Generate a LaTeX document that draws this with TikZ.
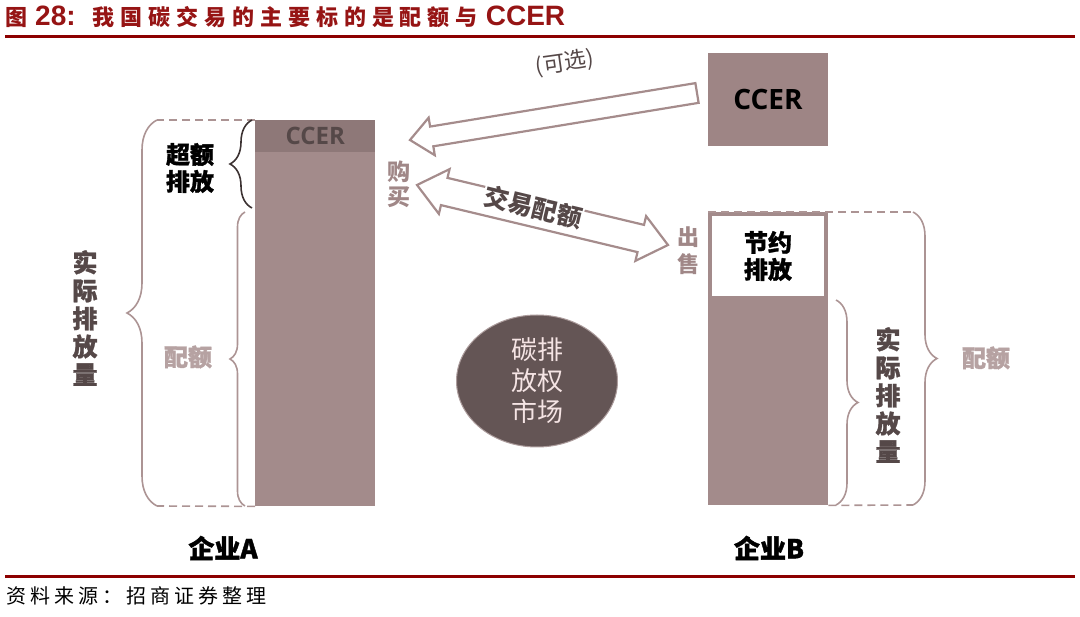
\documentclass[tikz,border=0pt]{standalone}
\usepackage{fontspec}
\setmainfont{Noto Sans CJK SC}
\newfontfamily\latinbold{Liberation Sans}
\newfontfamily\opensans{Open Sans}
\usetikzlibrary{calc,shapes.geometric,decorations.pathreplacing}
\definecolor{titlered}{RGB}{150, 20, 20}
\definecolor{rulered}{RGB}{140, 0, 0}
\definecolor{barfill}{RGB}{163, 139, 139}
\definecolor{barband}{RGB}{142, 120, 120}
\definecolor{boxfill}{RGB}{158, 133, 133}
\definecolor{braceline}{RGB}{172, 148, 148}
\definecolor{palelabel}{RGB}{182, 162, 162}
\definecolor{softlabel}{RGB}{160, 135, 135}
\definecolor{darklabel}{RGB}{85, 72, 72}
\definecolor{marketfill}{RGB}{100, 85, 85}
\definecolor{markettext}{RGB}{245, 228, 228}
\definecolor{arrowline}{RGB}{165, 140, 140}

\begin{document}
\begin{tikzpicture}[
    x=1pt, y=-1pt,
    bar/.style={
        rectangle, inner sep=0,
        minimum width=120,
        fill=barfill
    },
    tagtext/.style={
        font=\fontsize{24}{27}\selectfont\bfseries\addfontfeature{FakeBold=1.2},
        align=center, inner sep=0
    },
    vlabel/.style={
        font=\fontsize{25}{28}\selectfont\bfseries\addfontfeature{FakeBold=1.2},
        align=center, inner sep=0,
        text=darklabel
    },
    bracing/.style={
        decorate, decoration={brace, amplitude=#1},
        line width=1.6pt, draw=braceline
    },
    guide/.style={
        dash pattern=on 8pt off 5pt,
        line width=1.6pt, draw=braceline
    },
    hollow/.style={
        draw=arrowline, fill=white,
        line width=2.2pt, line join=miter
    }
]
\useasboundingbox (0,0) rectangle (1080,617);

% Title and rules
\node[anchor=west, inner sep=0, text=titlered, font=\fontsize{22}{22}\selectfont\bfseries] (title) at (5,17)
    {图\hspace{8pt}{\latinbold\fontsize{28}{28}\selectfont 28:}\hspace{17pt}{\addfontfeature{LetterSpace=27}我国碳交易的主要标的是配额与}\hspace{8pt}{\latinbold\fontsize{28}{28}\selectfont CCER}};
\draw[rulered, line width=3pt] (5,37) -- (1075,37);
\draw[rulered, line width=3pt] (5,576.5) -- (1075,576.5);
\node[anchor=west, inner sep=0, font=\fontsize{20}{20}\selectfont\addfontfeature{LetterSpace=20}] (source) at (6,596) {资料来源：招商证券整理};

% COLUMN 1: firm A
\node[bar, minimum height=386, anchor=north west] (barA) at (255,120) {};
\node[rectangle, inner sep=0, minimum width=120, minimum height=32, anchor=north west, fill=barband,
      text=darklabel, font=\opensans\fontsize{24}{24}\selectfont\bfseries] (ccerA) at (255,120) {CCER};
\node[tagtext] (overA) at (190,168) {超额\\排放};
\node[tagtext, text=palelabel] (quotaA) at (188,357) {配额};
\node[vlabel] (actualA) at (85,318) {实\\际\\排\\放\\量};
\node[tagtext, font=\fontsize{26}{26}\selectfont\bfseries\addfontfeature{FakeBold=1.5}] (firmA) at (223,548) {企业A};

\draw[guide] (barA.north west) -- (157,120);
\draw[guide] (barA.south west) -- (157,506);
\draw[bracing=30] (157,506) -- (157,120);
\draw[bracing=22, draw=darklabel!70!black] (252,208) -- (252,120);
\draw[bracing=15] (245,506) -- (245,212);

% COLUMN 2: firm B
\node[bar, minimum height=205, anchor=north west] (barB) at (708,300) {};
\node[tagtext, rectangle, draw=barfill, line width=4pt, fill=white, minimum width=116, minimum height=84] (saveB) at (768,256) {节约\\排放};
\node[vlabel] (actualB) at (888,395) {实\\际\\排\\放\\量};
\node[tagtext, text=palelabel] (quotaB) at (986,358) {配额};
\node[tagtext, font=\fontsize{26}{26}\selectfont\bfseries\addfontfeature{FakeBold=1.5}] (firmB) at (769,548) {企业B};

\draw[guide] (708,212) -- (913,212);
\draw[guide] (barB.south east) -- (913,505);
\draw[bracing=24] (913,212) -- (913,505);
\draw[bracing=22] (836,300) -- (836,505);

% CCER supply
\node[rectangle, inner sep=0, minimum width=120, minimum height=93, fill=boxfill,
      font=\opensans\fontsize{28}{28}\selectfont\bfseries] (ccerbox) at (768,99.5) {CCER};

% Market
\node[ellipse, inner sep=0, minimum width=161, minimum height=132, fill=marketfill,
      draw=markettext!50!marketfill, line width=1pt, align=center, text=markettext,
      font=\fontsize{26}{31}\selectfont] (market) at (537,381) {碳排\\放权\\市场};

% === CONNECTIONS ===
\coordinate (ccerout) at (697,93);
\coordinate (buyin) at (410,140);
\coordinate (tradeleft) at (417,185);
\coordinate (traderight) at (668,245);

\path ($(buyin)!22pt!(ccerout)$) coordinate (buyhead);
\draw[hollow] (buyin) -- ($(buyhead)!19pt!90:(buyin)$) -- ($(buyhead)!10pt!90:(buyin)$)
    -- ($(ccerout)!10pt!90:(buyin)$) -- ($(ccerout)!10pt!-90:(buyin)$)
    -- ($(buyhead)!10pt!-90:(buyin)$) -- ($(buyhead)!19pt!-90:(buyin)$) -- cycle;

\path ($(tradeleft)!28pt!(traderight)$) coordinate (tradeheadA)
      ($(traderight)!28pt!(tradeleft)$) coordinate (tradeheadB);
\draw[hollow] (tradeleft) -- ($(tradeheadA)!23pt!90:(traderight)$) -- ($(tradeheadA)!14pt!90:(traderight)$)
    -- ($(tradeheadB)!14pt!-90:(tradeleft)$) -- ($(tradeheadB)!23pt!-90:(tradeleft)$) -- (traderight)
    -- ($(tradeheadB)!23pt!90:(tradeleft)$) -- ($(tradeheadB)!14pt!90:(tradeleft)$)
    -- ($(tradeheadA)!14pt!-90:(traderight)$) -- ($(tradeheadA)!23pt!-90:(traderight)$) -- cycle;

% Arrow labels
\node[tagtext, text=darklabel, font=\fontsize{22}{22}\selectfont, rotate=8] (optional) at (565,63) {(可选)};
\node[tagtext, text=darklabel, fill=white, inner sep=1pt, font=\fontsize{25}{25}\selectfont\bfseries, rotate=-13.4] (tradelabel) at (533,207) {交易配额};
\node[tagtext, text=softlabel, font=\fontsize{23}{25}\selectfont\bfseries] (buy) at (399,184) {购\\买};
\node[tagtext, text=softlabel, font=\fontsize{22}{27}\selectfont\bfseries] (sell) at (688,251) {出\\售};

\end{tikzpicture}
\end{document}
